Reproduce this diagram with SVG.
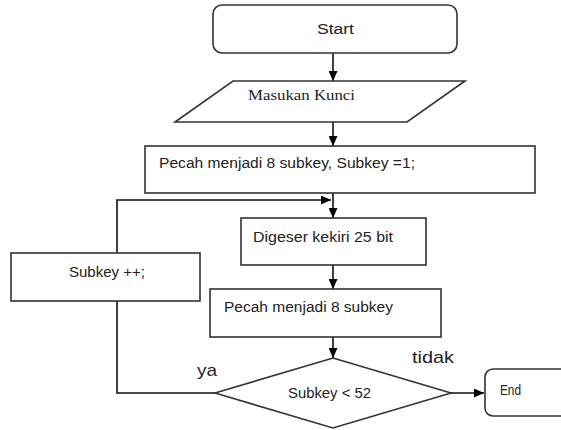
<svg xmlns="http://www.w3.org/2000/svg" width="561" height="430" viewBox="0 0 561 430">
<defs>
<marker id="arr" markerUnits="userSpaceOnUse" markerWidth="10" markerHeight="9" refX="10" refY="4.5" orient="auto">
<path d="M0,0 L10,4.5 L0,9 z" fill="#000"/>
</marker>
<style>
.shape{fill:#fff;stroke:#333;stroke-width:1.6}
.conn{fill:none;stroke:#111;stroke-width:1.6}
.t{font-family:"Liberation Sans",Arial,sans-serif;font-size:14px;fill:#222}
.s{font-family:"Liberation Serif","Times New Roman",serif;font-size:15px;fill:#222}
.lbl{font-family:"Liberation Sans",Arial,sans-serif;font-size:17px;fill:#222}
</style>
</defs>
<rect width="561" height="430" fill="#fff"/>
<g id="connectors">
<line class="conn" x1="333" y1="53" x2="333" y2="81" marker-end="url(#arr)"/>
<line class="conn" x1="333" y1="122" x2="333" y2="146" marker-end="url(#arr)"/>
<line class="conn" x1="333" y1="193" x2="333" y2="218" marker-end="url(#arr)"/>
<polyline class="conn" points="117,253 117,200 331,200" marker-end="url(#arr)"/>
<line class="conn" x1="333" y1="265" x2="333" y2="289" marker-end="url(#arr)"/>
<line class="conn" x1="333" y1="337" x2="333" y2="358" marker-end="url(#arr)"/>
<polyline class="conn" points="215,393 117,393 117,301"/>
<line class="conn" x1="451" y1="393" x2="484" y2="393" marker-end="url(#arr)"/>
<text class="lbl" x="197" y="376" textLength="20" lengthAdjust="spacingAndGlyphs">ya</text>
<text class="lbl" x="412" y="363" textLength="42" lengthAdjust="spacingAndGlyphs">tidak</text>
</g>
<g id="start">
<rect class="shape" x="213" y="5" width="244" height="48" rx="9"/>
<text class="t" x="317" y="34" textLength="37" lengthAdjust="spacingAndGlyphs">Start</text>
</g>
<g id="input">
<polygon class="shape" points="233,81 465,81 407,122 175,122"/>
<text class="s" x="248" y="100" textLength="107" lengthAdjust="spacingAndGlyphs">Masukan Kunci</text>
</g>
<g id="split1">
<rect class="shape" x="145" y="146" width="390" height="47"/>
<text class="t" x="159" y="168" textLength="256" lengthAdjust="spacingAndGlyphs">Pecah menjadi 8 subkey,  Subkey =1;</text>
</g>
<g id="shift">
<rect class="shape" x="241" y="218" width="185" height="47"/>
<text class="t" x="253" y="242" textLength="140" lengthAdjust="spacingAndGlyphs">Digeser kekiri  25 bit</text>
</g>
<g id="split2">
<rect class="shape" x="210" y="289" width="231" height="48"/>
<text class="t" x="224" y="312" textLength="169" lengthAdjust="spacingAndGlyphs">Pecah menjadi 8 subkey</text>
</g>
<g id="decision">
<polygon class="shape" points="333,358 451,393 333,428 215,393"/>
<text class="t" x="288" y="398" textLength="83" lengthAdjust="spacingAndGlyphs">Subkey &lt; 52</text>
</g>
<g id="increment">
<rect class="shape" x="11" y="253" width="189" height="48"/>
<text class="t" x="69" y="277" textLength="76" lengthAdjust="spacingAndGlyphs">Subkey ++;</text>
</g>
<g id="end">
<rect class="shape" x="485" y="369" width="90" height="47" rx="8"/>
<text class="t" x="500" y="395" textLength="21" lengthAdjust="spacingAndGlyphs">End</text>
</g>
</svg>
